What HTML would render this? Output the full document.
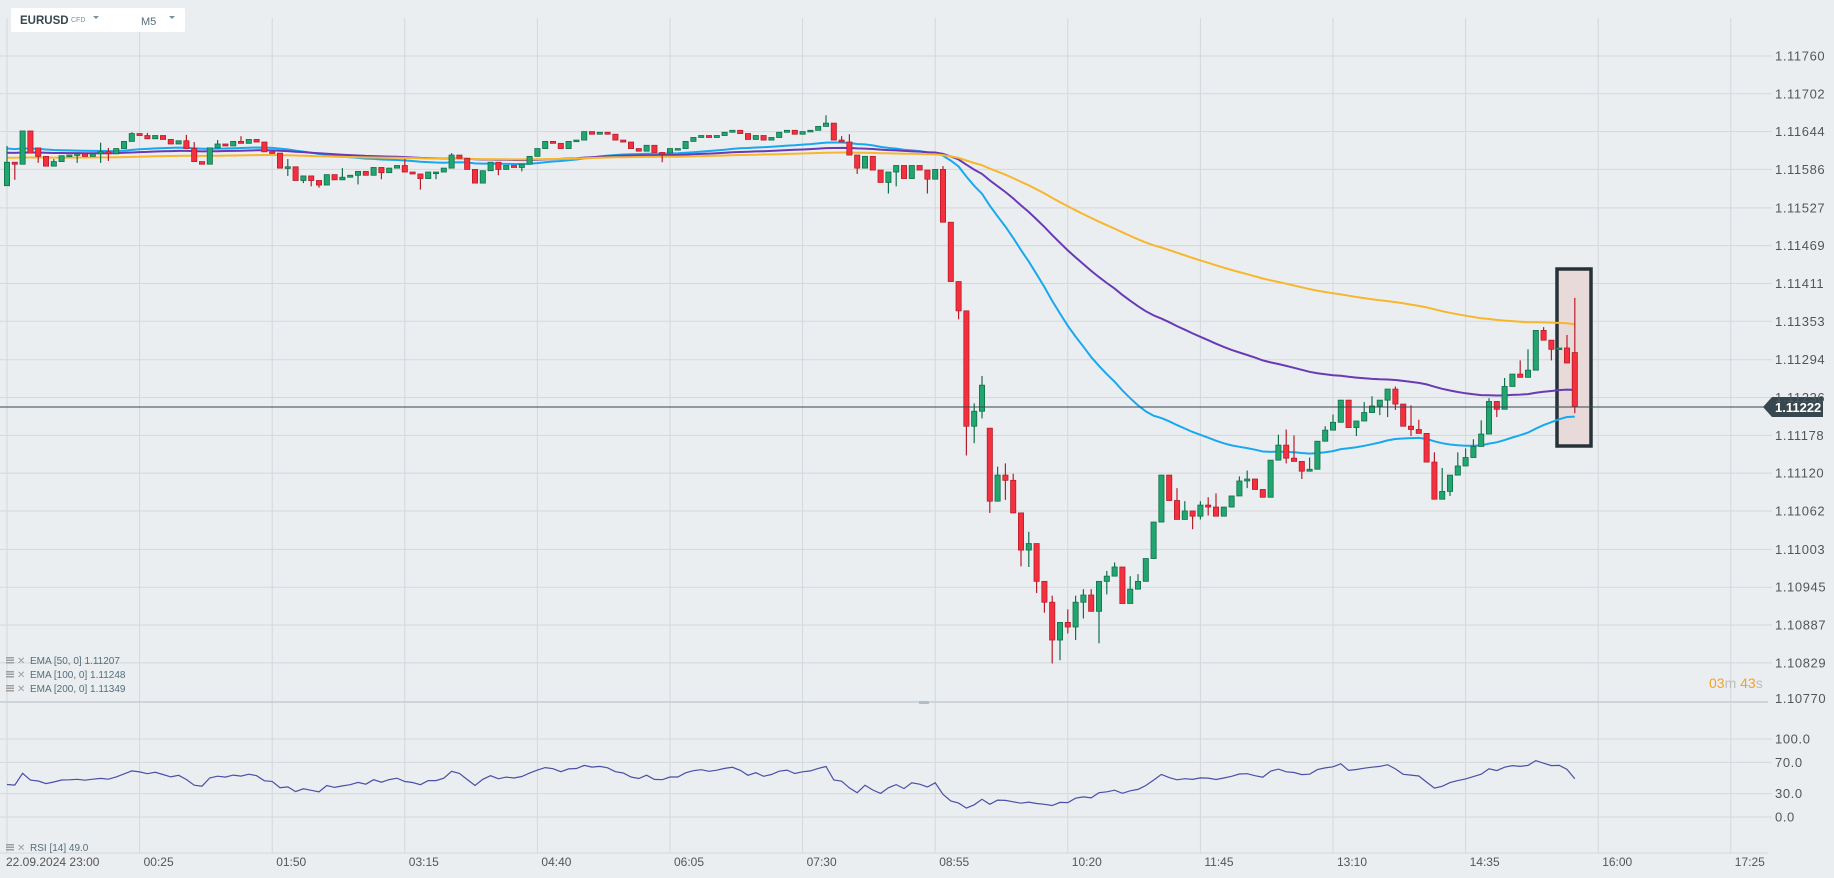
<!DOCTYPE html>
<html><head><meta charset="utf-8"><style>
html,body{margin:0;padding:0;background:#ebeef1;overflow:hidden}
svg{display:block;font-family:"Liberation Sans",sans-serif}
</style></head><body>
<svg id="chart" width="1834" height="878" viewBox="0 0 1834 878">
<rect x="0" y="0" width="1834" height="878" fill="#ebeef1"/>
<g id="grid"></g>
<g id="rsiPanel"></g>
<rect x="1557" y="269" width="34" height="177" fill="#e9dada" stroke="#263238" stroke-width="3.5"/>
<g id="emas"></g>
<g id="candles"></g>
<line x1="0" y1="407" x2="1764" y2="407" stroke="#37474f" stroke-width="1"/>
<g>
<polygon points="1763,407 1772,397 1823,397 1823,417 1772,417" fill="#37474f"/>
<text x="1775" y="412" fill="#fff" font-size="13" font-weight="bold">1.11222</text>
</g>
<g id="axes"></g>
<g>
<rect x="11" y="8" width="174" height="24" rx="2" fill="#fff"/>
<text x="20" y="24" font-size="11.5" font-weight="bold" fill="#37474f">EURUSD</text>
<text x="71" y="22" font-size="7" fill="#78909c">CFD</text>
<polygon points="93,16 99,16 96,19" fill="#78909c"/>
<text x="141" y="25" font-size="11" fill="#546e7a">M5</text>
<polygon points="169,16 175,16 172,19" fill="#78909c"/>
</g>
<g font-size="14">
<text x="1709" y="688"><tspan fill="#f7a021">03</tspan><tspan fill="#bdbdbd">m </tspan><tspan fill="#f7a021">43</tspan><tspan fill="#bdbdbd">s</tspan></text>
</g>
<g id="legend" font-size="10" fill="#546e7a"></g>
<rect x="919" y="701" width="10" height="3" fill="#b0bec5"/>
</svg>
<script>
const closes=[1.11597,1.11594,1.11645,1.11611,1.11606,1.11591,1.11598,1.11607,1.11608,1.11610,
1.11606,1.11610,1.11613,1.11610,1.11618,1.11629,1.11641,1.11638,1.11633,1.11638,
1.11632,1.11625,1.11630,1.11618,1.11598,1.11594,1.11619,1.11625,1.11622,1.11629,
1.11626,1.11632,1.11628,1.11613,1.11611,1.11588,1.11590,1.11569,1.11576,1.11569,
1.11562,1.11578,1.11570,1.11574,1.11577,1.11583,1.11577,1.11589,1.11581,1.11588,
1.11592,1.11582,1.11579,1.11572,1.11582,1.11582,1.11588,1.11608,1.11603,1.11586,
1.11565,1.11584,1.11597,1.11586,1.11592,1.11589,1.11594,1.11606,1.11618,1.11629,
1.11626,1.11618,1.11629,1.11631,1.11644,1.11640,1.11643,1.11640,1.11631,1.11628,
1.11618,1.11614,1.11623,1.11612,1.11611,1.11618,1.11618,1.11629,1.11635,1.11638,
1.11635,1.11638,1.11643,1.11646,1.11641,1.11632,1.11638,1.11631,1.11635,1.11643,
1.11646,1.11640,1.11644,1.11646,1.11652,1.11657,1.11631,1.11628,1.11608,1.11588,
1.11606,1.11585,1.11566,1.11582,1.11592,1.11572,1.11592,1.11585,1.11571,1.11586,
1.11505,1.11414,1.11369,1.11192,1.11215,1.11255,1.11077,1.11117,1.11109,1.11059,
1.11002,1.11012,1.10954,1.10922,1.10864,1.10891,1.10884,1.10922,1.10933,1.10908,
1.10954,1.10962,1.10976,1.10920,1.10942,1.10954,1.10989,1.11045,1.11117,1.11078,
1.11049,1.11062,1.11054,1.11071,1.11068,1.11054,1.11068,1.11085,1.11108,1.11111,
1.11095,1.11083,1.11140,1.11163,1.11143,1.11138,1.11123,1.11126,1.11169,1.11186,
1.11198,1.11232,1.11190,1.11200,1.11213,1.11223,1.11232,1.11249,1.11226,1.11192,
1.11187,1.11181,1.11137,1.11080,1.11092,1.11117,1.11131,1.11144,1.11161,1.11180,
1.11230,1.11218,1.11253,1.11272,1.11267,1.11278,1.11339,1.11324,1.11310,1.11312,
1.11289,1.11222];
const openGaps={0:1.11561,4:1.11619,126:1.11189,201:1.11305};
const wickHighs={0:1.11622,6:1.11602,12:1.11627,13:1.11619,16:1.11643,18:1.11642,23:1.11639,24:1.11628,27:1.11631,30:1.11637,36:1.11602,43:1.11588,51:1.11602,57:1.11611,105:1.11669,107:1.11637,108:1.11640,120:1.11591,124:1.11227,125:1.11269,127:1.11130,128:1.11135,129:1.11119,131:1.11030,134:1.10932,136:1.10911,137:1.10932,138:1.10942,139:1.10942,141:1.10970,142:1.10983,144:1.10962,145:1.10965,150:1.11097,151:1.11077,153:1.11077,154:1.11083,155:1.11089,158:1.11115,159:1.11124,163:1.11179,164:1.11187,165:1.11178,167:1.11144,169:1.11192,170:1.11210,174:1.11229,175:1.11238,178:1.11253,180:1.11224,181:1.11202,183:1.11152,184:1.11128,186:1.11152,187:1.11158,188:1.11172,189:1.11201,190:1.11235,192:1.11266,194:1.11293,195:1.11310,197:1.11344,200:1.11332,201:1.11389};
const wickLows={1:1.11570,4:1.11596,9:1.11596,12:1.11596,13:1.11599,36:1.11576,38:1.11565,39:1.11560,40:1.11558,45:1.11563,48:1.11571,53:1.11555,55:1.11571,63:1.11577,66:1.11583,84:1.11597,109:1.11579,113:1.11549,114:1.11560,118:1.11549,122:1.11356,123:1.11147,124:1.11166,125:1.11204,126:1.11059,128:1.11079,130:1.10977,131:1.10976,132:1.10936,133:1.10906,134:1.10828,135:1.10833,136:1.10874,137:1.10864,138:1.10897,140:1.10859,141:1.10934,152:1.11034,153:1.11049,154:1.11055,159:1.11097,164:1.11135,166:1.11111,173:1.11177,176:1.11209,177:1.11206,178:1.11217,180:1.11177,185:1.11085,191:1.11206,198:1.11293,201:1.11212};
const emaPeriods=[50,100,200];
const emaSeeds=[1.11619,1.11612,1.11604];
const emaColors=["#18a8f0","#6a3ab5","#f8b62d"];
const priceTicks=["1.11760","1.11702","1.11644","1.11586","1.11527","1.11469","1.11411","1.11353","1.11294","1.11236","1.11178","1.11120","1.11062","1.11003","1.10945","1.10887","1.10829","1.10770"];
const timeLabels=["22.09.2024  23:00","00:25","01:50","03:15","04:40","06:05","07:30","08:55","10:20","11:45","13:10","14:35","16:00","17:25"];
const rsiTicks=["100.0","70.0","30.0","0.0"];
const legendLabels=["EMA  [50,  0]  1.11207","EMA  [100,  0]  1.11248","EMA  [200,  0]  1.11349"];
const rsiLabel="RSI  [14]  49.0";
const rsiSeedGain=0.00005, rsiSeedLoss=0.00007;

const NS="http://www.w3.org/2000/svg";
function yP(p){return 56+(1.1176-p)*65180;}
function xB(i){return 7+i*7.8;}
function yR(v){return 817-v*0.78;}
function mk(tag,attrs,parent){const e=document.createElementNS(NS,tag);for(const k in attrs)e.setAttribute(k,attrs[k]);parent.appendChild(e);return e;}

const grid=document.getElementById('grid');
priceTicks.forEach((t,k)=>{const y=yP(parseFloat(t));
 if(k<priceTicks.length-1){const l=mk('line',{x1:0,y1:y,x2:1772,y2:y,stroke:'#d3d8dc','stroke-width':1},grid);
 
 }});
timeLabels.forEach((t,k)=>{const x=xB(k*17);
 const l=mk('line',{x1:x,y1:18,x2:x,y2:853,stroke:'#d3d8dc','stroke-width':1},grid);
 
 });
mk('line',{x1:0,y1:702,x2:1768,y2:702,stroke:'#c5ccd1','stroke-width':1.5},grid);
mk('line',{x1:0,y1:853,x2:1768,y2:853,stroke:'#d3d8dc','stroke-width':1},grid);

const axes=document.getElementById('axes');
priceTicks.forEach((t,k)=>{let y=yP(parseFloat(t))+4.5; if(k===priceTicks.length-1)y-=3;
 const e=mk('text',{x:1775,y:y,'font-size':13,fill:'#555','letter-spacing':'0.6'},axes);e.textContent=t;
 
 });
timeLabels.forEach((t,k)=>{const x=xB(k*17)+(k===0?-1:4);
 const e=mk('text',{x:x,y:866,'font-size':12,fill:'#555','xml:space':'preserve'},axes);e.textContent=t;
 
 });

const cg=document.getElementById('candles');
closes.forEach((c,i)=>{
 const o=(openGaps[i]!==undefined)?openGaps[i]:closes[i-1];
 const up=c>=o;
 const h=(wickHighs[i]!==undefined)?wickHighs[i]:Math.max(o,c);
 const l=(wickLows[i]!==undefined)?wickLows[i]:Math.min(o,c);
 const x=xB(i);
 const g=mk('g',{},cg);
 
 
 const fill=up?'#21a66f':'#f4303f', st=up?'#11704a':'#b81d2b';
 mk('line',{x1:x,y1:yP(h),x2:x,y2:yP(l),stroke:st,'stroke-width':1.2},g);
 const yt=yP(Math.max(o,c)), yb=yP(Math.min(o,c));
 mk('rect',{x:x-2.6,y:yt,width:5.2,height:Math.max(1.6,yb-yt),fill:fill,stroke:st,'stroke-width':0.8},g);
});

const eg=document.getElementById('emas');
emaPeriods.forEach((n,k)=>{let e=emaSeeds[k];const a=2/(n+1);const pts=[];
 closes.forEach((c,i)=>{e=e+a*(c-e);pts.push(xB(i).toFixed(1)+','+yP(e).toFixed(1));});
 const pl=mk('polyline',{points:pts.join(' '),fill:'none',stroke:emaColors[k],'stroke-width':2},eg);
 
 });

const rp=document.getElementById('rsiPanel');
rsiTicks.forEach(t=>{const y=yR(parseFloat(t));
 mk('line',{x1:0,y1:y,x2:1772,y2:y,stroke:'#d3d8dc','stroke-width':1},rp);
 const e=mk('text',{x:1775,y:y+4.5,'font-size':13,fill:'#555','letter-spacing':'0.6'},rp);e.textContent=t;
 
 });
let ag=rsiSeedGain, al=rsiSeedLoss;const rpts=[];
closes.forEach((c,i)=>{if(i>0){const d=c-closes[i-1];ag=(ag*13+Math.max(d,0))/14;al=(al*13+Math.max(-d,0))/14;}
 const r=al===0?100:100-100/(1+ag/al);rpts.push(xB(i).toFixed(1)+','+yR(r).toFixed(1));});
const rl=mk('polyline',{points:rpts.join(' '),fill:'none',stroke:'#4a4fa8','stroke-width':1.2},rp);



const lg=document.getElementById('legend');
function icons(y){mk('rect',{x:6,y:y-7,width:8,height:1.5,fill:'#9e9e9e'},lg);mk('rect',{x:6,y:y-4.5,width:8,height:1.5,fill:'#9e9e9e'},lg);mk('rect',{x:6,y:y-2,width:8,height:1.5,fill:'#9e9e9e'},lg);
 const t=mk('text',{x:17,y:y,'font-size':10,fill:'#9e9e9e'},lg);t.textContent='✕';}
legendLabels.forEach((t,k)=>{const y=664+k*14;icons(y);
 const e=mk('text',{x:30,y:y,'xml:space':'preserve'},lg);e.textContent=t;
 
 });
icons(851);
const re=mk('text',{x:30,y:851,'xml:space':'preserve'},lg);re.textContent=rsiLabel;


</script>
</body></html>
